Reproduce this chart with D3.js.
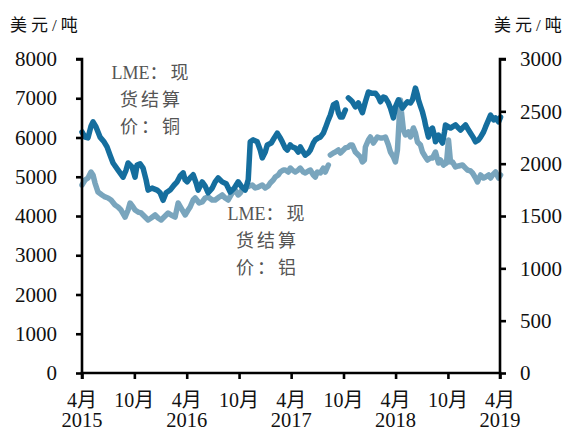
<!DOCTYPE html>
<html><head><meta charset="utf-8">
<script src="https://cdn.jsdelivr.net/npm/d3@7"></script>
<style>
html,body{margin:0;padding:0;background:#fff;}
svg{display:block;}
text{font-family:"Liberation Serif","Noto Sans CJK SC",serif;}
</style></head>
<body>
<svg id="chart" width="568" height="432"></svg>
<script>
// start date of week 0
const startDate = "2015-04-01";
// LME copper spot settlement, USD/t : [weeks since start, price]  (null = gap)
const copper = [
[0,6140],[1.5,6010],[3,5990],[4.5,6290],[5.5,6400],[7,6270],[9,6010],[11,5890],[12.5,5760],[14,5550],
[15.5,5350],[18,5170],[20.5,4990],[22,5170],[23,5350],[25,5250],[26.5,4990],[27.5,5300],[29,5330],[30.5,5220],
[32,4920],[33,4660],[35,4710],[37.5,4660],[39,4590],[40.5,4400],[42,4590],[44,4660],[46,4790],[47.5,4870],
[49,5020],[50.5,5100],[51.5,4920],[52.5,4870],[54,4970],[55.5,5050],[57,4840],[58,4660],[60,4870],[61.5,4760],
[63,4590],[65,4710],[66.5,4870],[68,4970],[70,4870],[72,4820],[74,4610],[76,4710],[78,4870],[79.5,4760],
[81.5,4660],[83,4920],[84,5890],[85.5,5940],[87.5,5890],[89,5680],[90,5480],[91.5,5630],[92.5,5810],[94.5,5860],
[96,5990],[97.5,6110],[99,5990],[100,5890],[101.5,5730],[102.5,5680],[104,5810],[105,5760],[106.5,5730],[108,5630],
[109,5760],[110.5,5630],[111.5,5550],[113,5610],[114,5680],[115.5,5860],[116.5,5940],[118,5990],[119,6010],[120.5,6110],
[121.5,6240],[123,6450],[124,6570],[125.5,6830],[127,6880],[128,6630],[129,6520],[130,6520],[131.5,6700],[132.2,null],
[133,7010],[134,6960],[135,6910],[136.5,6780],[138,6880],[139,6750],[140,6630],[141.5,6910],[143,7160],[144.5,7130],
[146.5,7130],[148,7030],[149,6910],[150.5,7030],[151.5,7010],[153,6880],[154,6750],[155.5,6500],[156.5,6780],[158,6960],
[160,6750],[161.5,6850],[162.5,6910],[164,6880],[165,6960],[166,7160],[166.5,7260],[167.5,7080],[168,6960],[169,6800],
[170,6650],[171,6450],[171.5,6320],[172.5,6110],[173,6010],[174,6190],[175,6240],[176,6040],[176.5,5890],[177.5,5990],
[178,6060],[179,5940],[180,5860],[181,6140],[181.5,6320],[183,6270],[184,6240],[185.5,6290],[186.5,6320],[188,6240],
[189,6190],[190.5,6270],[191.5,6320],[193,6190],[194,6110],[195.5,5990],[196.5,5890],[198,5940],[199,6010],[200.5,6140],
[201.5,6270],[203,6450],[204,6570],[205.5,6450],[206.5,6500],[208,6400],[209,6520]
];
// LME aluminium spot settlement, USD/t : [weeks since start, price]  (null = gap)
const aluminium = [
[0,1796],[1.5,1844],[3,1863],[4.5,1920],[5.5,1892],[6.5,1815],[8,1729],[10,1701],[11.5,1682],[13,1672],
[14.5,1653],[16.5,1605],[18,1586],[19.5,1557],[21.5,1490],[23,1557],[24,1624],[25.5,1586],[26.5,1557],[28,1538],
[29.5,1529],[31.5,1490],[33,1462],[34.5,1481],[36.5,1510],[38,1481],[39.5,1462],[41.5,1500],[43,1529],[44.5,1510],
[46.5,1490],[48,1624],[49.5,1576],[51.5,1510],[53,1557],[54,1586],[55.5,1653],[56.5,1672],[58.5,1624],[60,1634],
[61.5,1672],[63,1682],[65,1653],[66.5,1653],[68.5,1682],[70,1701],[71.5,1672],[73,1653],[75,1720],[76.5,1748],
[78,1701],[79,1720],[80.5,1768],[81.5,1768],[83.5,1787],[85,1796],[86.5,1768],[88,1777],[90,1796],[91.5,1768],
[93,1787],[94,1815],[95.5,1844],[96.5,1873],[98,1892],[99,1920],[100.5,1939],[101.5,1939],[103,1920],[104,1958],
[105,1939],[106.5,1920],[108,1939],[109,1958],[110.5,1920],[111.5,1911],[113,1930],[114,1939],[115.5,1892],[116.5,1873],
[117.5,1920],[119,1911],[120.5,1958],[121.5,1920],[123,1987],[123.5,null],
[124,2083],[125.5,2102],[126.5,2111],[128,2131],[129,2102],[130.5,2131],[131.5,2150],[133,2159],[134,2178],[135,2178],
[136.5,2111],[138,2083],[139,2064],[140,2016],[141,2035],[141.5,2159],[143,2226],[144,2255],[145.5,2197],[146.5,2226],
[147.5,2255],[149,2245],[150,2245],[151.5,2255],[153,2178],[154,2111],[155.5,2064],[156.5,2016],[157.5,2131],[158.5,2465],
[159,2608],[159.5,2494],[160.5,2322],[161.5,2274],[163,2303],[164,2255],[165.5,2341],[166.5,2293],[167.5,2207],[169,2178],
[170,2111],[171.5,2064],[172.5,2035],[174,2054],[175,2054],[176.5,2111],[178,2006],[179,2035],[180.5,1987],[182,2006],
[183,2226],[184,2016],[185,2016],[186.5,1968],[188,1978],[190,1987],[191.5,1958],[192.5,1939],[194,1930],[195,1911],
[196.5,1863],[197.5,1825],[199,1892],[200.5,1863],[201.5,1873],[203,1892],[204,1863],[205,1892],[206.5,1920],[208,1863],
[209,1892]
];
const leftTicks = [0,1000,2000,3000,4000,5000,6000,7000,8000];
const rightTicks = [0,500,1000,1500,2000,2500,3000];
const xTickDates = ["2015-04-01","2015-10-01","2016-04-01","2016-10-01","2017-04-01","2017-10-01","2018-04-01","2018-10-01","2019-04-01"];
const xTickMonths = ["4月","10月","4月","10月","4月","10月","4月","10月","4月"];
const xTickYears = ["2015","","2016","","2017","","2018","","2019"];
const unitLabel = "美元/吨";
const copperLabel = [["LME","：现"],["","货结算"],["","价：铜"]];
const aluminiumLabel = [["LME","：现"],["","货结算"],["","价：铝"]];

const parse = d3.timeParse("%Y-%m-%d");
const t0 = parse(startDate);
const toDate = w => new Date(t0.getTime() + w*7*86400000);

const W = 568, H = 432;
const m = {left:82, right:68, top:59, bottom:59};
const svg = d3.select("#chart");

const x = d3.scaleTime().domain([parse("2015-04-01"), parse("2019-04-01")]).range([m.left, W-m.right]);
const yL = d3.scaleLinear().domain([0,8000]).range([H-m.bottom, m.top]);
const yR = d3.scaleLinear().domain([0,3000]).range([H-m.bottom, m.top]);

const copperColor = "#156e9e", aluColor = "#79a5bd";

const lineL = d3.line().defined(d=>d[1]!==null).x(d=>x(toDate(d[0]))).y(d=>yL(d[1])).curve(d3.curveLinear);
const lineR = d3.line().defined(d=>d[1]!==null).x(d=>x(toDate(d[0]))).y(d=>yR(d[1])).curve(d3.curveLinear);

svg.append("path").datum(aluminium).attr("d", lineR)
  .attr("fill","none").attr("stroke",aluColor).attr("stroke-width",5.5)
  .attr("stroke-linejoin","round").attr("stroke-linecap","round");
svg.append("path").datum(copper).attr("d", lineL)
  .attr("fill","none").attr("stroke",copperColor).attr("stroke-width",5.5)
  .attr("stroke-linejoin","round").attr("stroke-linecap","round");

// axes
const axL = svg.append("g").attr("transform",`translate(${m.left},0)`)
  .call(d3.axisLeft(yL).tickValues(leftTicks).tickSize(6).tickPadding(19).tickFormat(d3.format("d")));
const axR = svg.append("g").attr("transform",`translate(${W-m.right},0)`)
  .call(d3.axisRight(yR).tickValues(rightTicks).tickSize(6).tickPadding(14).tickFormat(d3.format("d")));
const axB = svg.append("g").attr("transform",`translate(0,${H-m.bottom})`)
  .call(d3.axisBottom(x).tickValues(xTickDates.map(parse)).tickSize(6).tickFormat(""));

[axL,axR,axB].forEach(g=>{
  g.select(".domain").attr("stroke","#000").attr("stroke-width",2.6);
  g.selectAll(".tick line").attr("stroke","#000").attr("stroke-width",2.6);
  g.selectAll("text").attr("fill","#111").style("font-size","21px").style("font-family",'"Liberation Serif",serif');
});
axL.select(".domain").attr("d",`M-6,${yL(8000)}H0V${yL(0)}`);
axR.select(".domain").attr("d",`M6,${yR(3000)}H0V${yR(0)}`);
axB.select(".domain").attr("d",`M${m.left},6V0H${W-m.right}V6`);

// x labels
const xl = svg.append("g");
xTickDates.forEach((d,i)=>{
  const px = x(parse(d));
  xl.append("text").attr("x",px).attr("y",407).attr("text-anchor","middle")
    .style("font-size","20px").attr("fill","#111").text(xTickMonths[i]);
  if (xTickYears[i]) xl.append("text").attr("x",px).attr("y",427).attr("text-anchor","middle")
    .style("font-size","20.5px").attr("fill","#111").text(xTickYears[i]);
});

// units
svg.append("text").attr("x",10).attr("y",31).style("font-size","17px").style("letter-spacing","4px").attr("fill","#111").text(unitLabel);
svg.append("text").attr("x",494).attr("y",31).style("font-size","17px").style("letter-spacing","4px").attr("fill","#111").text(unitLabel);

// series labels
function label(lines, cx, y0){
  lines.forEach((parts,i)=>{
    const t = svg.append("text").attr("x",cx+1.5).attr("y",y0+i*27).attr("text-anchor","middle")
      .style("font-size","18px").attr("fill","#555");
    if (parts[0]) t.append("tspan").style("letter-spacing","0px").text(parts[0]);
    t.append("tspan").style("letter-spacing","3px").text(parts[1]);
  });
}
label(copperLabel, 150, 79);
label(aluminiumLabel, 266, 220);
</script>
</body></html>
